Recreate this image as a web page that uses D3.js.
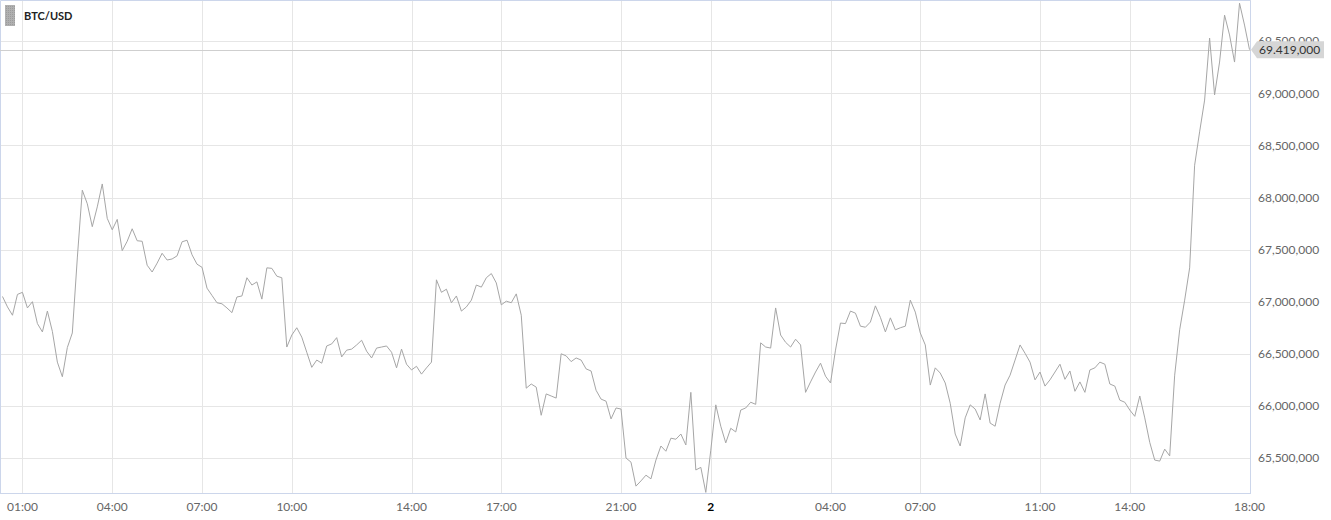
<!DOCTYPE html>
<html>
<head>
<meta charset="utf-8">
<script src="https://cdn.jsdelivr.net/npm/d3@7"></script>
<style>
html,body{margin:0;padding:0;background:#fff;}
svg{display:block;font-family:Lato,"Open Sans",sans-serif;}
</style>
</head>
<body>
<svg id="chart" width="1331" height="520"></svg>
<script>
// ---------------- DATA ----------------
const seriesName = "BTC/USD";
const startTime = new Date(2024, 2, 1, 0, 20);   // first sample
const stepMinutes = 10;                            // sample spacing
// closing prices, in thousands
const priceK = [
67050,66950,66870,67070,67090,66940,67000,66790,66710,66910,
66715,66420,66280,66560,66700,67420,68070,67940,67720,67910,
68130,67800,67690,67790,67490,67580,67700,67585,67580,67350,
67285,67370,67465,67400,67410,67440,67575,67590,67450,67360,
67330,67130,67060,66990,66980,66940,66895,67045,67055,67230,
67160,67190,67025,67325,67320,67245,67230,66565,66680,66750,
66660,66515,66370,66440,66410,66575,66595,66655,66470,66535,
66545,66585,66630,66525,66460,66555,66565,66575,66515,66365,
66545,66400,66345,66380,66305,66365,66420,67210,67090,67120,
66990,67055,66910,66950,67015,67160,67140,67230,67270,67180,
66970,67005,66990,67075,66870,66170,66210,66180,65910,66115,
66095,66075,66500,66480,66425,66460,66440,66355,66335,66150,
66065,66045,65875,65980,65970,65500,65460,65230,65280,65335,
65300,65480,65615,65565,65690,65680,65730,65625,66130,65385,
65410,65170,65575,66010,65805,65645,65785,65750,65960,65980,
66035,66015,66605,66565,66555,66940,66680,66610,66565,66640,
66585,66130,66230,66325,66410,66285,66220,66535,66795,66790,
66910,66890,66765,66755,66805,66960,66850,66710,66845,66730,
66750,66765,67015,66900,66700,66585,66200,66365,66315,66220,
66025,65730,65615,65885,66010,65970,65865,66115,65835,65805,
66025,66200,66295,66440,66585,66505,66420,66250,66325,66190,
66250,66325,66400,66255,66335,66140,66230,66130,66345,66365,
66420,66400,66210,66190,66055,66035,65960,65900,66095,65885,
65650,65480,65470,65585,65520,66295,66730,67015,67325,68310,
68630,68935,69530,68985,69300,69750,69560,69300,69865,69655,
69419
];
const yTickValues = [65500000,66000000,66500000,67000000,67500000,68000000,68500000,69000000,69500000];
const xTickTimes = [
  new Date(2024,2,1,1), new Date(2024,2,1,4), new Date(2024,2,1,7), new Date(2024,2,1,10),
  new Date(2024,2,1,14), new Date(2024,2,1,17), new Date(2024,2,1,21), new Date(2024,2,2,0),
  new Date(2024,2,2,4), new Date(2024,2,2,7), new Date(2024,2,2,11), new Date(2024,2,2,14),
  new Date(2024,2,2,18)
];
const xTickLabels = ["01:00","04:00","07:00","10:00","14:00","17:00","21:00","2","04:00","07:00","11:00","14:00","18:00"];
const xTickBold   = [false,false,false,false,false,false,false,true,false,false,false,false,false];
const xDomain = [new Date(2024,2,1,0,15), new Date(2024,2,2,18,3)];
const yDomain = [65164000, 69886000];
const lastPrice = 69419000;
const lastPriceLabel = "69.419,000";

// ---------------- CHART ----------------
const data = priceK.map((v, i) => ({
  t: new Date(startTime.getTime() + i * stepMinutes * 60000),
  v: v * 1000
}));

const plot = {left: 0, right: 1251, top: 1, bottom: 493};

const svg = d3.select("#chart");

// legend symbol pattern
const defs = svg.append("defs");
const pat = defs.append("pattern").attr("id", "dots")
  .attr("width", 2).attr("height", 2).attr("patternUnits", "userSpaceOnUse");
pat.append("rect").attr("width", 2).attr("height", 2).attr("fill", "#b0b0b0");
pat.append("rect").attr("width", 1).attr("height", 1).attr("fill", "#9c9c9c");

const x = d3.scaleTime().domain(xDomain).range([plot.left, plot.right]);
const y = d3.scaleLinear().domain(yDomain).range([plot.bottom, plot.top]);

// horizontal grid
svg.append("g").selectAll("line").data(yTickValues).join("line")
  .attr("x1", plot.left).attr("x2", plot.right)
  .attr("y1", d => Math.round(y(d)) + 0.5).attr("y2", d => Math.round(y(d)) + 0.5)
  .attr("stroke", "#e6e6e6").attr("stroke-width", 1);

// vertical grid
svg.append("g").selectAll("line").data(xTickTimes).join("line")
  .attr("x1", d => Math.round(x(d)) + 0.5).attr("x2", d => Math.round(x(d)) + 0.5)
  .attr("y1", 0).attr("y2", plot.bottom)
  .attr("stroke", "#e6e6e6").attr("stroke-width", 1);

// frame
svg.append("path")
  .attr("d", `M0.5,${plot.bottom}V0.5H${plot.right - 0.5}V${plot.bottom}`)
  .attr("fill", "none").attr("stroke", "#ccd6eb").attr("stroke-width", 1);

// x axis line
svg.append("line")
  .attr("x1", 0).attr("x2", plot.right)
  .attr("y1", plot.bottom + 0.5).attr("y2", plot.bottom + 0.5)
  .attr("stroke", "#ccd6eb").attr("stroke-width", 1);

// last price line
svg.append("line")
  .attr("x1", plot.left).attr("x2", plot.right)
  .attr("y1", Math.round(y(lastPrice)) + 0.5).attr("y2", Math.round(y(lastPrice)) + 0.5)
  .attr("stroke", "#cfcfcf").attr("stroke-width", 1);

// series line
const line = d3.line().x(d => x(d.t)).y(d => y(d.v));
svg.append("path").datum(data)
  .attr("d", line)
  .attr("fill", "none")
  .attr("stroke", "#a6a6a6")
  .attr("stroke-width", 1)
  .attr("stroke-linejoin", "round");

// y labels
const fmt = d3.format(",");
svg.append("g").selectAll("text").data(yTickValues).join("text")
  .attr("x", 1258).attr("y", d => y(d))
  .attr("dy", "0.35em")
  .attr("font-size", 12).attr("fill", "#666")
  .text(d => fmt(d));

// x labels
svg.append("g").selectAll("text").data(xTickTimes).join("text")
  .attr("x", d => x(d)).attr("y", 507)
  .attr("dy", "0.35em")
  .attr("text-anchor", "middle")
  .attr("font-size", 12)
  .attr("font-weight", (d, i) => xTickBold[i] ? "bold" : "normal")
  .attr("fill", (d, i) => xTickBold[i] ? "#000" : "#666")
  .text((d, i) => xTickLabels[i]);

// last price label
const ly = y(lastPrice);
const lg = svg.append("g");
lg.append("path")
  .attr("d", `M${plot.right},${ly} L${plot.right + 6},${ly - 8.5} H1324 V${ly + 8.5} H${plot.right + 6} Z`)
  .attr("fill", "#d6d6d6");
lg.append("text")
  .attr("x", 1259).attr("y", ly).attr("dy", "0.35em")
  .attr("font-size", 12).attr("fill", "#333")
  .text(lastPriceLabel);

// legend
const legend = svg.append("g");
legend.append("rect").attr("x", 5).attr("y", 5).attr("width", 10).attr("height", 21)
  .attr("fill", "url(#dots)");
legend.append("text").attr("x", 24).attr("y", 16).attr("dy", "0.35em")
  .attr("font-size", 11).attr("font-weight", "bold").attr("fill", "#222")
  .text(seriesName);
</script>
</body>
</html>
